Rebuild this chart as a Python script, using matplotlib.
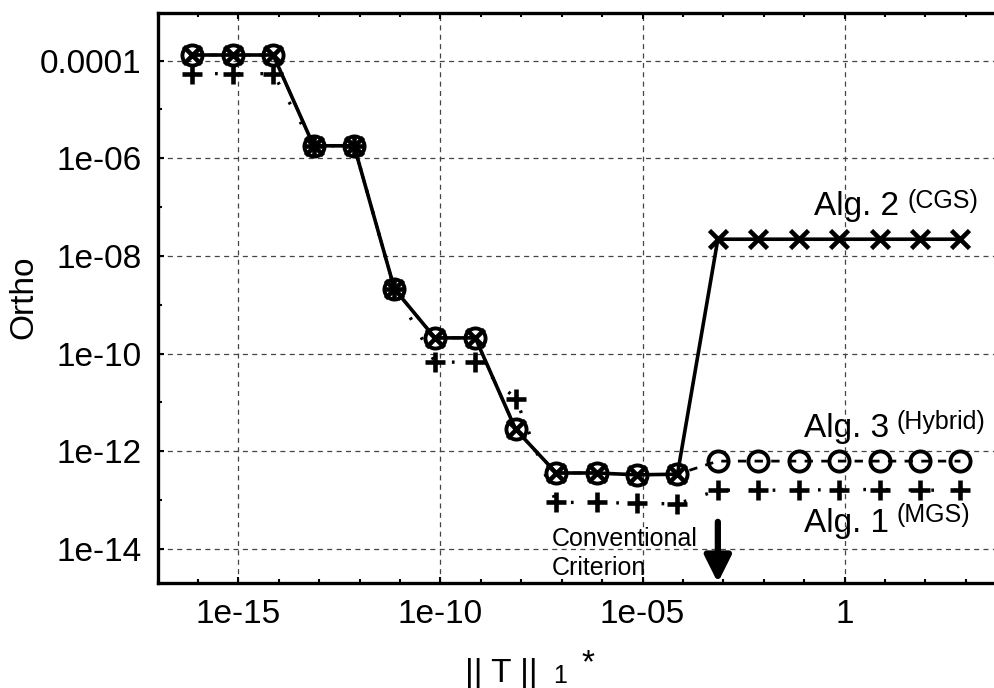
import matplotlib
matplotlib.use('Agg')
import matplotlib.pyplot as plt
from matplotlib.ticker import FixedLocator, NullFormatter

plt.rcParams['font.family'] = ['Liberation Sans', 'DejaVu Sans']

# ||T||_1* values (one point per decade)
x_vals = [7.3e-17, 7.3e-16, 7.3e-15, 7.3e-14, 7.3e-13, 7.3e-12, 7.3e-11,
          7.3e-10, 7.3e-09, 7.3e-08, 7.3e-07, 7.3e-06, 7.3e-05, 7.3e-04,
          7.3e-03, 7.3e-02, 7.3e-01, 7.3e+00, 7.3e+01, 7.3e+02]

# Ortho for each algorithm
cgs_vals = [1.3e-4, 1.3e-4, 1.3e-4, 1.8e-6, 1.8e-6, 2.1e-9, 2.1e-10,
            2.1e-10, 2.8e-12, 3.6e-13, 3.6e-13, 3.3e-13, 3.4e-13, 2.2e-8,
            2.2e-8, 2.2e-8, 2.2e-8, 2.2e-8, 2.2e-8, 2.2e-8]
hybrid_vals = [1.3e-4, 1.3e-4, 1.3e-4, 1.8e-6, 1.8e-6, 2.1e-9, 2.1e-10,
               2.1e-10, 2.8e-12, 3.6e-13, 3.6e-13, 3.3e-13, 3.4e-13, 6.3e-13,
               6.3e-13, 6.3e-13, 6.3e-13, 6.3e-13, 6.3e-13, 6.3e-13]
mgs_vals = [5.4e-5, 5.4e-5, 5.4e-5, 1.8e-6, 1.8e-6, 2.1e-9, 6.7e-11,
            6.7e-11, 1.2e-11, 9.0e-14, 9.0e-14, 8.6e-14, 8.4e-14, 1.6e-13,
            1.6e-13, 1.6e-13, 1.65e-13, 1.65e-13, 1.6e-13, 1.6e-13]

x_major = [1e-15, 1e-10, 1e-05, 1]
x_major_labels = ['1e-15', '1e-10', '1e-05', '1']
x_minor = [1e-17, 1e-16, 1e-14, 1e-13, 1e-12, 1e-11, 1e-09, 1e-08, 1e-07,
           1e-06, 1e-04, 1e-03, 1e-02, 1e-01, 1e1, 1e2, 1e3]
y_major = [1e-14, 1e-12, 1e-10, 1e-08, 1e-06, 1e-04]
y_major_labels = ['1e-14', '1e-12', '1e-10', '1e-08', '1e-06', '0.0001']
y_minor = [1e-13, 1e-11, 1e-09, 1e-07, 1e-05, 1e-03]

criterion_x = x_vals[13]

fig = plt.figure(figsize=(9.95, 6.88), dpi=100)
ax = fig.add_axes([158.3 / 995, 1 - 582.7 / 688, 1 - 158.3 / 995, (582.7 - 12.7) / 688])

ax.set_xscale('log')
ax.set_yscale('log')
ax.set_xlim(10 ** -16.98, 10 ** 3.72)
ax.set_ylim(10 ** -14.69, 10 ** -3.02)

# series
ax.plot(x_vals, hybrid_vals, color='black', lw=2.0, ls=(0, (3, 3)),
        marker='o', ms=14.5, mfc='none', mec='black', mew=2.8, zorder=3)
ax.plot(x_vals, mgs_vals, color='black', lw=2.4, ls=(0, (0.8, 6)),
        marker='+', ms=14.5, mew=3.3, zorder=4)
ax.plot(x_vals, cgs_vals, color='black', lw=2.6, ls='-',
        marker='x', ms=13.5, mew=3.3, zorder=5)

# grid / ticks
ax.set_xticks(x_major)
ax.set_xticklabels(x_major_labels)
ax.xaxis.set_minor_locator(FixedLocator(x_minor))
ax.xaxis.set_minor_formatter(NullFormatter())
ax.set_yticks(y_major)
ax.set_yticklabels(y_major_labels)
ax.yaxis.set_minor_locator(FixedLocator(y_minor))
ax.yaxis.set_minor_formatter(NullFormatter())

ax.grid(True, which='major', color='#444444', lw=0.9, ls=(0, (4, 3.5)))
ax.tick_params(which='both', direction='in', top=True, right=False,
               width=1.5, labelsize=24, colors='black')
ax.tick_params(which='major', length=4, pad=12)
ax.tick_params(which='minor', length=3)

for side in ['left', 'bottom', 'top']:
    ax.spines[side].set_linewidth(2.4)
ax.spines['right'].set_visible(False)

# axis labels
ax.set_ylabel('Ortho', fontsize=24)
ax.yaxis.set_label_coords(-0.142, 0.5)
fig.text(465 / 995, 1 - 682 / 688, '|| T ||', fontsize=24, ha='left', va='baseline')
fig.text(553 / 995, 1 - 683 / 688, '1', fontsize=18, ha='left', va='baseline')
fig.text(581 / 995, 1 - 672 / 688, '*', fontsize=24, ha='left', va='baseline')

# curve labels
fig.text(814 / 995, 1 - 215 / 688, 'Alg. 2', fontsize=24, ha='left', va='baseline')
fig.text(908 / 995, 1 - 208 / 688, '(CGS)', fontsize=18, ha='left', va='baseline')
fig.text(804 / 995, 1 - 437 / 688, 'Alg. 3', fontsize=24, ha='left', va='baseline')
fig.text(897 / 995, 1 - 429 / 688, '(Hybrid)', fontsize=18, ha='left', va='baseline')
fig.text(804 / 995, 1 - 532 / 688, 'Alg. 1', fontsize=24, ha='left', va='baseline')
fig.text(897 / 995, 1 - 522 / 688, '(MGS)', fontsize=18, ha='left', va='baseline')

# conventional criterion marker
fig.text(552 / 995, 1 - 546 / 688, 'Conventional', fontsize=18, ha='left', va='baseline')
fig.text(552 / 995, 1 - 575 / 688, 'Criterion', fontsize=18, ha='left', va='baseline')
ax.annotate('', xy=(criterion_x, 10 ** -14.69), xytext=(criterion_x, 3.6e-14),
            arrowprops=dict(arrowstyle='-|>,head_length=0.8,head_width=0.4',
                            color='black', lw=4.5, mutation_scale=20,
                            shrinkA=0, shrinkB=0),
            annotation_clip=False)

fig.savefig('out.png', dpi=100, facecolor='white')
